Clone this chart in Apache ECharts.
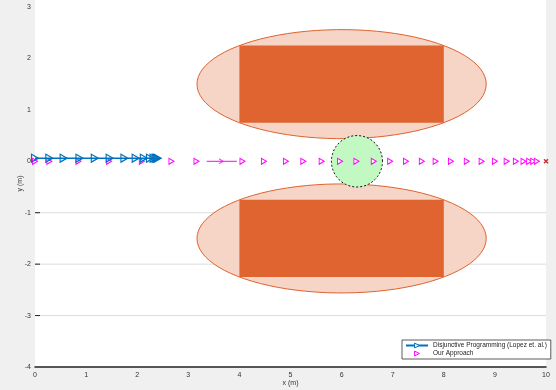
<!DOCTYPE html>
<html><head><meta charset="utf-8">
<script src="https://cdn.jsdelivr.net/npm/echarts@6/dist/echarts.min.js"></script>
<style>html,body{margin:0;padding:0;background:#f0f0f0;}#c{width:556px;height:390px;}</style>
</head><body><div id="c"></div>
<script>
// ---- data ----
const xTicks = [0,1,2,3,4,5,6,7,8,9,10];
const yTicks = [-4,-3,-2,-1,0,1,2,3];
const gridLinesY = [-1, -2, -3];

// obstacles (rectangles) and their bounding ellipses
const rectXMin = [4, 4];
const rectXMax = [8, 8];
const rectYMin = [0.75, -2.25];
const rectYMax = [2.25, -0.75];
const ellipseCx = [6, 6];
const ellipseCy = [1.5, -1.5];
const ellipseA = [2.83, 2.83];
const ellipseB = [1.06, 1.06];

// green circular region
const circleCx = [6.3];
const circleCy = [0];
const circleR = [0.5];

// Disjunctive Programming (Lopez et. al.)
const dpX = [0, 0.28, 0.56, 0.87, 1.17, 1.46, 1.75, 1.97, 2.13, 2.25, 2.32, 2.36, 2.38, 2.4];
const dpY = [0.06, 0.06, 0.06, 0.06, 0.06, 0.06, 0.06, 0.06, 0.06, 0.06, 0.06, 0.06, 0.06, 0.06];

// Our Approach
const oaX = [0, 0.28, 0.85, 1.45, 2.09, 2.67, 3.16, 4.06, 4.48, 4.91, 5.25, 5.61, 5.97, 6.29, 6.63, 6.95, 7.26, 7.57, 7.84, 8.14, 8.45, 8.74, 9.0, 9.23, 9.41, 9.56, 9.67, 9.75, 9.82];
const oaY = oaX.map(() => 0);

// magenta arrow segment
const arrowSegX = [3.36, 3.95];
const arrowSegY = [0, 0];
const arrowHeadX = [3.64];
const arrowHeadY = [0];

// goal
const goalX = [10];
const goalY = [0];

// ---- chart ----
const chart = echarts.init(document.getElementById('c'), null, {renderer: 'canvas'});
const fontFam = 'Liberation Sans, Arial, sans-serif';

function ellipsePoints(api, cx, cy, a, b, n) {
  const pts = [];
  for (let i = 0; i < n; i++) {
    const t = 2 * Math.PI * i / n;
    pts.push(api.coord([cx + a * Math.cos(t), cy + b * Math.sin(t)]));
  }
  return pts;
}

const ellipseData = ellipseCx.map((v, i) => [v, ellipseCy[i], ellipseA[i], ellipseB[i]]);
const rectData = rectXMin.map((v, i) => [v, rectYMin[i], rectXMax[i], rectYMax[i]]);
const circleData = circleCx.map((v, i) => [v, circleCy[i], circleR[i]]);

const NAME_DP = 'Disjunctive Programming (Lopez et. al.)';
const NAME_OA = 'Our Approach';

const option = {
  backgroundColor: '#f0f0f0',
  animation: false,
  grid: {left: 35, right: 10, top: 0, bottom: 23, show: true, backgroundColor: '#ffffff', borderWidth: 0,
         outerBoundsMode: 'none', containLabel: false},
  xAxis: {
    type: 'value', min: 0, max: 10, interval: 1,
    name: 'x (m)', nameLocation: 'middle', nameGap: 13, nameMoveOverlap: false,
    nameTextStyle: {fontSize: 7, color: '#333', fontFamily: fontFam},
    axisLine: {show: true, onZero: false, lineStyle: {color: '#222', width: 1.5}},
    axisTick: {show: false},
    axisLabel: {fontSize: 7, color: '#333', fontFamily: fontFam, margin: 5},
    splitLine: {show: false}
  },
  yAxis: {
    type: 'value', min: -4, max: 3.136, interval: 1,
    name: 'y (m)', nameLocation: 'middle', nameGap: 11, nameRotate: 90, nameMoveOverlap: false,
    nameTextStyle: {fontSize: 7, color: '#333', fontFamily: fontFam},
    axisLine: {show: false},
    axisTick: {show: false},
    axisLabel: {fontSize: 7, color: '#333', fontFamily: fontFam, margin: 4, showMaxLabel: false},
    splitLine: {show: false}
  },
  legend: {
    orient: 'vertical', left: 402, top: 340,
    backgroundColor: '#ffffff', borderColor: '#333', borderWidth: 0.8,
    padding: [2, 4, 2, 3], itemGap: 1, itemWidth: 22, itemHeight: 6,
    textStyle: {fontSize: 6.5, color: '#222', fontFamily: fontFam},
    symbolRotate: 'inherit',
    itemStyle: {color: '#ffffff', borderColor: 'inherit', borderWidth: 1},
    data: [NAME_DP, NAME_OA]
  },
  series: [
    {
      type: 'custom', name: 'grid', z: 1, silent: true,
      data: gridLinesY.map(v => [0, v]), encode: {x: 0, y: 1},
      renderItem: function (params, api) {
        const y = api.value(1);
        const p1 = api.coord([0, y]);
        const p2 = api.coord([10, y]);
        return {type: 'group', children: [
          {type: 'line', shape: {x1: p1[0], y1: p1[1], x2: p2[0], y2: p2[1]}, style: {stroke: '#dcdcdc', lineWidth: 1}},
          {type: 'line', shape: {x1: p1[0], y1: p1[1], x2: p1[0] + 5, y2: p1[1]}, style: {stroke: '#222', lineWidth: 1}}
        ]};
      }
    },
    {
      type: 'custom', name: 'ellipses', z: 2, silent: true,
      data: ellipseData, encode: {x: 0, y: 1},
      renderItem: function (params, api) {
        const pts = ellipsePoints(api, api.value(0), api.value(1), api.value(2), api.value(3), 90);
        return {type: 'polygon', shape: {points: pts},
          style: {fill: '#f6d5c6', stroke: '#e0622e', lineWidth: 1}};
      }
    },
    {
      type: 'custom', name: 'rects', z: 3, silent: true,
      data: rectData, encode: {x: [0, 2], y: [1, 3]},
      renderItem: function (params, api) {
        const p1 = api.coord([api.value(0), api.value(3)]);
        const p2 = api.coord([api.value(2), api.value(1)]);
        return {type: 'rect', shape: {x: p1[0], y: p1[1], width: p2[0] - p1[0], height: p2[1] - p1[1]},
          style: {fill: '#df6430', stroke: null}};
      }
    },
    {
      type: 'custom', name: 'circle', z: 4, silent: true,
      data: circleData, encode: {x: 0, y: 1},
      renderItem: function (params, api) {
        const pts = ellipsePoints(api, api.value(0), api.value(1), api.value(2), api.value(2), 80);
        return {type: 'polygon', shape: {points: pts},
          style: {fill: '#c2f8c2', stroke: '#111', lineWidth: 1, lineDash: [2, 2]}};
      }
    },
    {
      type: 'line', name: 'arrowSeg', z: 5, silent: true,
      data: arrowSegX.map((v, i) => [v, arrowSegY[i]]),
      showSymbol: false, lineStyle: {color: '#ff00ff', width: 1}
    },
    {
      type: 'scatter', name: 'arrowHead', z: 5, silent: true,
      data: arrowHeadX.map((v, i) => [v, arrowHeadY[i]]),
      symbol: 'path://M0,0L6,5L0,10', symbolSize: [4, 5],
      itemStyle: {color: 'none', borderColor: '#ff00ff', borderWidth: 1}
    },
    {
      type: 'line', name: NAME_OA, z: 6, color: '#ff00ff',
      data: oaX.map((v, i) => [v, oaY[i]]),
      lineStyle: {color: '#ff00ff', width: 0, opacity: 0},
      symbol: 'triangle', symbolRotate: -90, symbolSize: [6, 5], showAllSymbol: true,
      itemStyle: {color: '#ffffff', borderColor: '#ff00ff', borderWidth: 1}
    },
    {
      type: 'line', name: NAME_DP, z: 7, color: '#0072bd',
      data: dpX.map((v, i) => [v, dpY[i]]),
      lineStyle: {color: '#0072bd', width: 1.5},
      symbol: 'triangle', symbolRotate: -90, symbolSize: [8, 7], showAllSymbol: true,
      itemStyle: {color: 'rgba(255,255,255,0)', borderColor: '#0072bd', borderWidth: 1.2}
    },
    {
      type: 'scatter', name: 'goal', z: 8, silent: true,
      data: goalX.map((v, i) => [v, goalY[i]]),
      symbol: 'path://M0,0L10,10M10,0L0,10', symbolSize: 4,
      itemStyle: {color: 'none', borderColor: '#c00000', borderWidth: 1.5}
    }
  ]
};
chart.setOption(option);
</script>
</body></html>
